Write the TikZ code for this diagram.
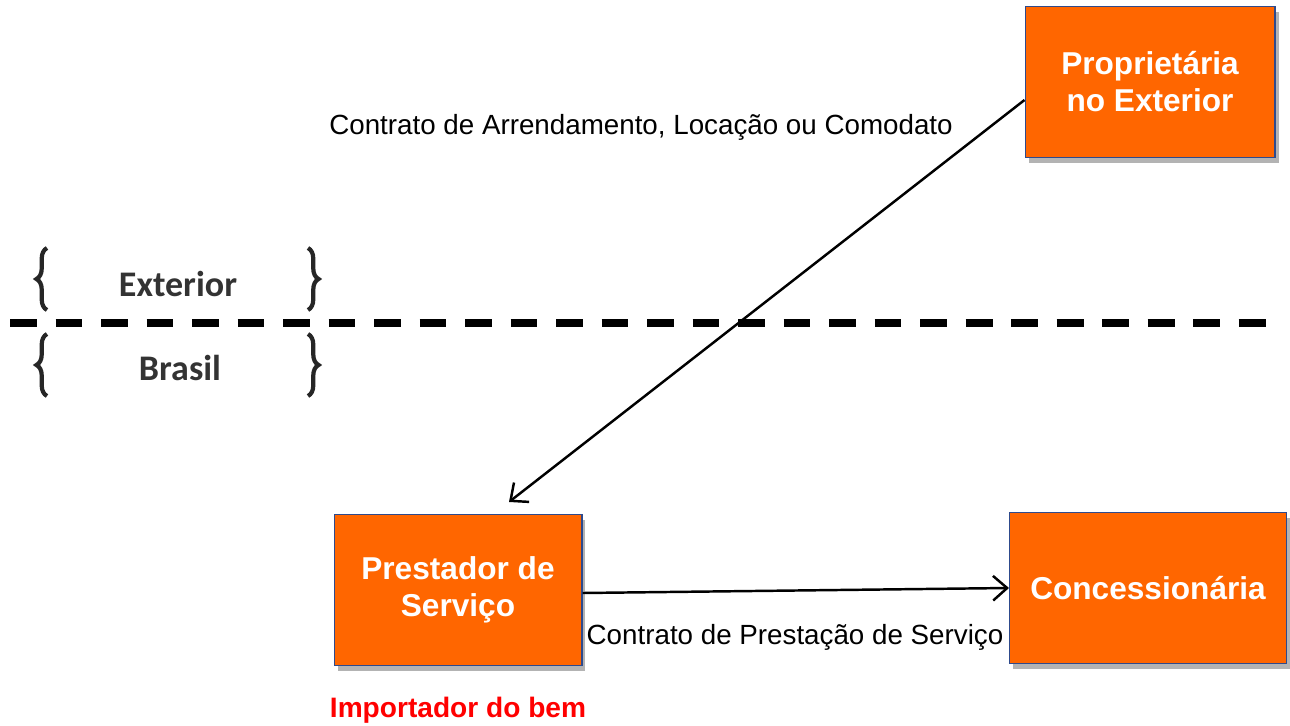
\documentclass[tikz,border=0pt]{standalone}
\usepackage{fontspec}
\setmainfont{Liberation Sans}
\newfontfamily\carlito{Carlito}
\usepackage{xcolor}
\usetikzlibrary{positioning, calc, arrows.meta, shadows, decorations.pathreplacing}

\definecolor{boxorange}{HTML}{FF6600}
\definecolor{boxline}{HTML}{2E4A8C}
\definecolor{importred}{HTML}{FF0000}

\begin{document}
\begin{tikzpicture}[x=0.02cm, y=-0.02cm,
    partbox/.style = {draw = boxline, line width = 0.6pt, fill = boxorange,
        rectangle, minimum width = 5.0cm, minimum height = 3.02cm,
        align = center, text = white, font = \fontsize{18}{21}\selectfont\bfseries,
        drop shadow = {shadow xshift = 2pt, shadow yshift = -3pt, opacity = 0.6}},
    contract/.style = {font = \fontsize{15.8}{18}\selectfont},
    side/.style = {font = \carlito\bfseries\fontsize{20.5}{24}\selectfont, text = black!80},
    linkarrow/.style = {line width = 1.4pt, -{Straight Barb[length = 8pt, width = 14pt]}},
    sidebrace/.style = {decorate, line width = 2.4pt, draw = black!85,
        decoration = {brace, amplitude = 6pt}}]
    \useasboundingbox (0,0) rectangle (1290,726);

    \node (prop) [partbox] at (1150,82) {Proprietária\\no Exterior};
    \node (prest) [partbox, minimum width = 4.96cm] at (458,590) {Prestador de\\Serviço};
    \node (conc) [partbox, minimum width = 5.54cm] at (1148,588) {Concessionária};

    % border line
    \draw [line width = 4.5pt, dash pattern = on 15.3pt off 10.6pt] (10,323) -- (1272,323);
    \draw [sidebrace] (47,310) -- (47,248);
    \draw [sidebrace] (47,396) -- (47,334);
    \draw [sidebrace] (308,248) -- (308,310);
    \draw [sidebrace] (308,334) -- (308,396);
    \node (ext) [side] at (178,284) {Exterior};
    \node (bra) [side] at (180,368) {Brasil};

    % contracts
    \draw [linkarrow] ($(prop.west) + (0,18)$) -- ($(prest.north) + (51,-12)$);
    \draw [linkarrow] ($(prest.east) + (0,3)$) -- (conc.west);
    \node (arrend) [contract] at (641,127) {Contrato de Arrendamento, Locação ou Comodato};
    \node (prestserv) [contract] at (795,637) {Contrato de Prestação de Serviço};
    \node (import) [below = 0.5cm of prest, text = importred,
        font = \fontsize{16}{19}\selectfont\bfseries] {Importador do bem};
\end{tikzpicture}
\end{document}
